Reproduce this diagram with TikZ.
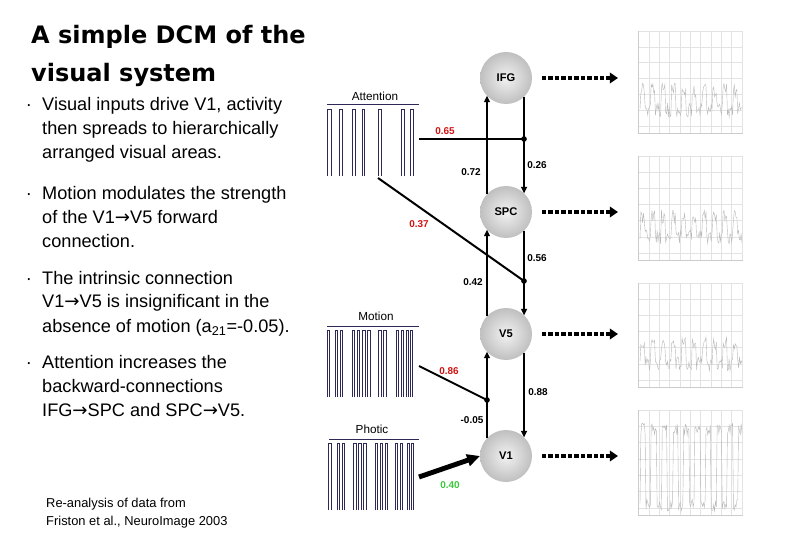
\documentclass[tikz,border=0pt]{standalone}
\usepackage{fontspec}
\setmainfont{Liberation Sans}
\newfontfamily\titlefont{DejaVu Sans}
\usetikzlibrary{arrows.meta}
\definecolor{stimc}{RGB}{45,40,85}
\definecolor{labred}{RGB}{210,20,20}
\definecolor{labgreen}{RGB}{60,200,60}
\newcommand\rarr{{\titlefont →}}
\begin{document}
\begin{tikzpicture}[x=0.03cm,y=-0.03cm,
  titletext/.style={anchor=base west,font=\titlefont\bfseries\fontsize{20.5pt}{24pt}\selectfont},
  bultext/.style={anchor=base west,inner sep=0pt,font=\fontsize{15.5pt}{20pt}\selectfont},
  bulmark/.style={anchor=base,inner sep=0pt,font=\fontsize{15.5pt}{20pt}\selectfont},
  foottext/.style={anchor=base west,inner sep=0pt,font=\fontsize{11pt}{13pt}\selectfont},
  stimlabel/.style={font=\fontsize{10pt}{12pt}\selectfont},
  region/.style={circle,minimum size=1.56cm,inner sep=0pt,outer sep=0pt,
    inner color=gray!10,outer color=gray!50,font=\bfseries\fontsize{9.5pt}{11pt}\selectfont},
  lab/.style={font=\bfseries\fontsize{8.5pt}{9pt}\selectfont,inner sep=0pt},
  conn/.style={line width=2pt,-{Triangle[length=5.5pt,width=5pt]}},
  modline/.style={line width=2.2pt},
  modthin/.style={line width=1.7pt},
  dotn/.style={circle,fill=black,minimum size=0.17cm,inner sep=0pt},
  dasharr/.style={line width=2.8pt,dash pattern=on 3.8pt off 1.7pt,-{Triangle[length=7pt,width=9pt]}},
  bigarr/.style={line width=4.2pt,-{Triangle[length=11pt,width=10pt]}},
  stim/.style={stimc,line width=0.6pt},
  gridl/.style={gray!22,line width=0.3pt},
  axl/.style={gray!40,line width=0.4pt},
  datal/.style={gray!55,line width=0.35pt}]
\useasboundingbox[fill=white] (0,0) rectangle (810,540);

% ---- title
\node[titletext] (t1) at (27,44) {A simple DCM of the};
\node[titletext] (t2) at (27,82) {visual system};

% ---- bullets
\node[bulmark] (b1) at (29,111) {·};
\node[bultext] (b1a) at (42,111) {Visual inputs drive V1, activity};
\node[bultext] (b1b) at (42,135) {then spreads to hierarchically};
\node[bultext] (b1c) at (42,159) {arranged visual areas.};
\node[bulmark] (b2) at (29,200) {·};
\node[bultext] (b2a) at (42,200) {Motion modulates the strength};
\node[bultext] (b2b) at (42,224) {of the V1\rarr V5 forward};
\node[bultext] (b2c) at (42,248) {connection.};
\node[bulmark] (b3) at (29,284) {·};
\node[bultext] (b3a) at (42,284) {The intrinsic connection};
\node[bultext] (b3b) at (42,308) {V1\rarr V5 is insignificant in the};
\node[bultext] (b3c) at (42,332) {absence of motion (a\textsubscript{21}=-0.05).};
\node[bulmark] (b4) at (29,368) {·};
\node[bultext] (b4a) at (42,368) {Attention increases the};
\node[bultext] (b4b) at (42,392) {backward-connections};
\node[bultext] (b4c) at (42,416) {IFG\rarr SPC and SPC\rarr V5.};

% ---- footnote
\node[foottext] (f1) at (46,507) {Re-analysis of data from};
\node[foottext] (f2) at (46,525) {Friston et al., NeuroImage 2003};

% ---- stimulus boxes
\node[stimlabel] (attl) at (375,96) {Attention};
\node[stimlabel] (motl) at (376,316) {Motion};
\node[stimlabel] (phol) at (372,429) {Photic};
\draw[stim] (327,104) -- (419,104);
\foreach \a/\b in {15/27,52/62,90/100,122/128,170/178,237/247,265/275}
  \draw[stim] ({322+\a/3},176) -- ({322+\a/3},109) -- ({322+\b/3},109) -- ({322+\b/3},176);
\draw[stim] (327,326) -- (419,326);
\foreach \a/\b in {15/22,40/47,55/62,90/97,105/112,122/129,137/144,170/177,185/192,222/229,237/244,252/259,265/272}
  \draw[stim] ({322+\a/3},397) -- ({322+\a/3},330) -- ({322+\b/3},330) -- ({322+\b/3},397);
\draw[stim] (329,439) -- (419,439);
\foreach \a/\b in {20/27,45/52,60/67,95/102,110/117,125/132,160/167,175/182,190/197,220/227,235/242,255/262,268/275}
  \draw[stim] ({322+\a/3},510) -- ({322+\a/3},443) -- ({322+\b/3},443) -- ({322+\b/3},510);

% ---- regions
\node[region] (IFG) at (506,78) {IFG};
\node[region] (SPC) at (506,212) {SPC};
\node[region] (V5) at (506,334) {V5};
\node[region] (V1) at (506,456) {V1};

% ---- intrinsic connections
\draw[conn] (SPC.137) -- (IFG.-137);
\draw[conn] (IFG.-46) -- (SPC.46);
\draw[conn] (V5.137) -- (SPC.-137);
\draw[conn] (SPC.-46) -- (V5.46);
\draw[conn] (V1.137) -- (V5.-137);
\draw[conn] (V5.-46) -- (V1.46);

% ---- modulatory / input connections
\coordinate (att) at (419,139);
\coordinate (attb) at (378,178);
\coordinate (mot) at (419,366);
\coordinate (pho) at (419,477);
\node[dotn] (m1) at (524,139) {};
\node[dotn] (m2) at (524,281) {};
\node[dotn] (m3) at (487,400) {};
\draw[modline] (att) -- (m1.center);
\draw[modthin] (attb) -- (m2.center);
\draw[modthin] (mot) -- (m3.center);
\draw[bigarr] (pho) -- (V1.west);

% ---- labels
\node[lab,labred] (l065) at (445,131) {0.65};
\node[lab] (l072) at (471,172) {0.72};
\node[lab] (l026) at (537,165) {0.26};
\node[lab,labred] (l037) at (419,224) {0.37};
\node[lab] (l056) at (537,258) {0.56};
\node[lab] (l042) at (473,282) {0.42};
\node[lab,labred] (l086) at (449,371) {0.86};
\node[lab] (l088) at (538,392) {0.88};
\node[lab] (l005) at (472,420) {-0.05};
\node[lab,labgreen] (l040) at (450,485) {0.40};

% ---- outputs
\coordinate (o1) at (618,78);
\coordinate (o2) at (618,212);
\coordinate (o3) at (618,334);
\coordinate (o4) at (618,456);
\draw[dasharr] ([xshift=0.3cm]IFG.east) -- (o1);
\draw[dasharr] ([xshift=0.3cm]SPC.east) -- (o2);
\draw[dasharr] ([xshift=0.3cm]V5.east) -- (o3);
\draw[dasharr] ([xshift=0.3cm]V1.east) -- (o4);

% ---- response plots
\pgfmathsetseed{7}
\foreach \t/\b/\k in {31/133/1,156/260/2,283/387/3,410/515/4} {
  \pgfmathsetmacro\s{(\b-\t-7)/6}
  \foreach \i in {0,...,6} \draw[gridl] (638,{\t+\i*\s}) -- (743,{\t+\i*\s});
  \foreach \g in {0,...,9} \draw[gridl] ({649+\g*10.3},\t) -- ({649+\g*10.3},\b);
  \draw[axl] (638,\b) -- (743,\b);
  \draw[axl] (638,\t) -- (638,\b);
  \ifnum\k<4
    \draw[datal] plot[domain=640:742,samples=120] (\x,{\t+5*\s-20*(sin((\x-640)*35)>0.3)-7*rand});
  \else
    \draw[datal] plot[domain=640:742,samples=120] (\x,{\t+3.5*\s-38*(2*(sin((\x-640)*33)>0)-1)-6*rand});
  \fi
}
\end{tikzpicture}
\end{document}
